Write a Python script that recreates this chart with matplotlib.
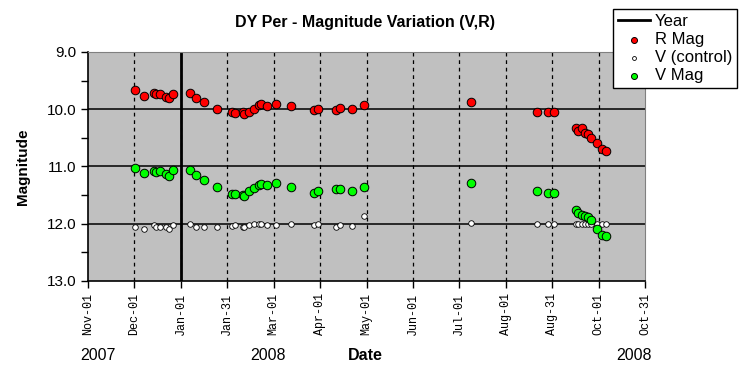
import matplotlib.pyplot as plt
import numpy as np

# days since 2007-11-01
days = [31, 37, 43.4, 44.3, 47.3, 51, 53.2, 55.8, 66.9, 70.8, 76.1, 84.3, 94.4, 96.1,
        101.3, 102.2, 105.7, 108.7, 111.8, 113.5, 117, 123.1, 132.7, 148.3, 151, 162.7,
        164.9, 173.2, 181, 251.1, 294.2, 301.4, 305.3, 319.5, 321.2, 323.8, 325.8, 327.6,
        329.5, 333.4, 337.1, 339.5]

r_mag = [9.67, 9.76, 9.71, 9.73, 9.74, 9.79, 9.81, 9.73, 9.71, 9.80, 9.88, 9.99, 10.05, 10.07,
         10.05, 10.09, 10.04, 9.99, 9.93, 9.91, 9.95, 9.90, 9.95, 10.01, 10.00, 10.02,
         9.97, 9.99, 9.93, 9.87, 10.04, 10.05, 10.05, 10.33, 10.38, 10.33, 10.41, 10.44,
         10.50, 10.59, 10.69, 10.73]

v_mag = [11.03, 11.11, 11.08, 11.09, 11.08, 11.13, 11.16, 11.06, 11.06, 11.15, 11.24, 11.36, 11.48, 11.48,
         11.50, 11.51, 11.42, 11.38, 11.33, 11.30, 11.32, 11.29, 11.36, 11.46, 11.42, 11.39,
         11.39, 11.43, 11.36, 11.29, 11.43, 11.46, 11.46, 11.76, 11.82, 11.85, 11.86, 11.88,
         11.93, 12.09, 12.19, 12.22]

v_control = [12.06, 12.10, 12.03, 12.06, 12.05, 12.06, 12.10, 12.02, 12.01, 12.06, 12.05, 12.06, 12.04, 12.02,
             12.06, 12.06, 12.03, 12.01, 12.01, 12.01, 12.02, 12.02, 12.01, 12.02, 12.01, 12.06,
             12.02, 12.04, 11.87, 11.98, 12.00, 12.01, 12.00, 12.00, 12.01, 12.00, 12.01, 12.00,
             12.01, 12.01, 12.01, 12.00]

year_day = 61
tick_labels = ["Nov-01", "Dec-01", "Jan-01", "Jan-31", "Mar-01", "Apr-01", "May-01",
               "Jun-01", "Jul-01", "Aug-01", "Aug-31", "Oct-01", "Oct-31"]

plt.rcParams['font.family'] = ['Liberation Sans', 'DejaVu Sans']

fig = plt.figure(figsize=(7.45, 3.82), dpi=100)
ax = fig.add_axes([88 / 745, 1 - 281 / 382, 557 / 745, 229 / 382])
ax.set_facecolor('#C0C0C0')

x_ticks = np.linspace(0, 365, len(tick_labels))
ax.set_xlim(0, 365)
ax.set_ylim(13, 9)

for xt in x_ticks[1:-1]:
    ax.axvline(xt, color='black', ls=(0, (3, 3)), lw=0.9, zorder=1)
for yt in [10, 11, 12]:
    ax.axhline(yt, color='black', lw=1.1, zorder=1)

ax.axvline(year_day, color='black', lw=2, zorder=2, label='Year')
ax.scatter(days, r_mag, s=38, color='#FF0000', edgecolor='black', lw=0.7, zorder=3, label='R Mag')
ax.scatter(days, v_control, s=16, color='white', edgecolor='black', lw=0.6, zorder=3, label='V (control)')
ax.scatter(days, v_mag, s=38, color='#00FF00', edgecolor='black', lw=0.7, zorder=4, label='V Mag')

ax.set_xticks(x_ticks)
ax.set_xticklabels(tick_labels, rotation=90, family='Liberation Mono', fontsize=8.5)
ax.set_yticks([9, 10, 11, 12, 13])
ax.set_yticklabels(["9.0", "10.0", "11.0", "12.0", "13.0"], fontsize=11)
ax.set_yticks(np.arange(9.5, 13, 1.0), minor=True)
ax.tick_params(axis='both', which='both', direction='out', length=5, width=1)

for side in ['top', 'right']:
    ax.spines[side].set_color('#808080')
for side in ['left', 'bottom']:
    ax.spines[side].set_linewidth(1.2)

ax.set_ylabel("Magnitude", fontsize=11, fontweight='bold', labelpad=12)

fig.text(0.49, 1 - 22 / 382, "DY Per - Magnitude Variation (V,R)", ha='center', va='center',
         fontsize=11.5, fontweight='bold')
fig.text(98 / 745, 1 - 355 / 382, "2007", ha='center', va='center', fontsize=11.5)
fig.text(268 / 745, 1 - 355 / 382, "2008", ha='center', va='center', fontsize=11.5)
fig.text(365 / 745, 1 - 355 / 382, "Date", ha='center', va='center', fontsize=11.5, fontweight='bold')
fig.text(634 / 745, 1 - 355 / 382, "2008", ha='center', va='center', fontsize=11.5)

leg = fig.legend(loc='upper right', bbox_to_anchor=(737 / 745, 1 - 9 / 382), fontsize=12,
                 frameon=True, fancybox=False, edgecolor='black', framealpha=1,
                 borderpad=0.3, labelspacing=0.18, handlelength=1.9, handletextpad=0.3,
                 borderaxespad=0, markerscale=0.7)
leg.get_frame().set_linewidth(1)

fig.savefig("out.png", dpi=100)
